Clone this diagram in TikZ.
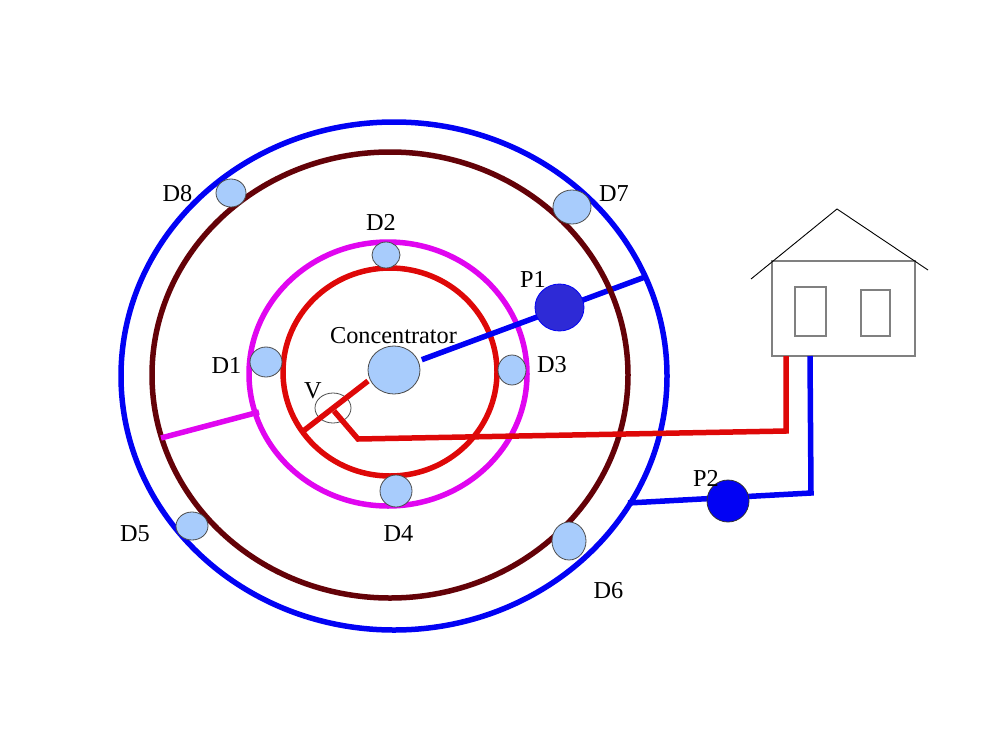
\documentclass[tikz,border=0pt]{standalone}
\usetikzlibrary{shapes.geometric}
\usepackage{fontspec}
\setmainfont{Liberation Serif}
\definecolor{bluepipe}{RGB}{2,2,244}
\definecolor{redpipe}{RGB}{222,8,8}
\definecolor{brownring}{RGB}{100,2,8}
\definecolor{magring}{RGB}{224,6,240}
\definecolor{devfill}{RGB}{168,204,252}
\definecolor{pumpone}{RGB}{46,42,214}
\tikzset{
  ringline/.style={line width=5.5pt},
  pipe/.style={line width=5.5pt,line join=miter},
  device/.style={ellipse,draw=black!70,line width=0.8pt,fill=devfill,inner sep=0pt},
  lbl/.style={font=\fontsize{24.3}{26}\selectfont,text=black,inner sep=0pt},
  thinline/.style={draw=black!50,line width=1.1pt},
}
\begin{document}
\begin{tikzpicture}[x=1pt,y=-1pt]
\useasboundingbox (0,0) rectangle (1000,728);
% inner rings
\draw[magring,ringline] (388,374) ellipse [x radius=139,y radius=132];
\draw[redpipe,ringline] (390,372) ellipse [x radius=107,y radius=104];
% free ends and junctions
\coordinate (blueEnd) at (645,277);
\coordinate (magA) at (161,438);
\coordinate (magB) at (259,412);
\coordinate (redStart) at (368,381);
\coordinate (redEnd) at (302,432);
\coordinate (redTee) at (334,411);
\coordinate (redKnee) at (358,439);
\coordinate (redCorner) at (786,431);
\coordinate (blueStart) at (628,503);
\coordinate (blueCorner) at (811,493);
\coordinate (houseRed) at (786,356);
\coordinate (houseBlue) at (810,356);
% concentrator and its feed, which runs under the brown ring
\node[device,minimum width=52pt,minimum height=48pt] (conc) at (394,370) {};
\draw[bluepipe,pipe,shorten <=3.5pt] (conc) -- (blueEnd);
% outer rings
\draw[bluepipe,ringline] (394,376) ellipse [x radius=273,y radius=254];
\draw[brownring,ringline] (390,375) ellipse [x radius=238,y radius=223];
% house
\node[thinline,draw,minimum width=143pt,minimum height=95pt,inner sep=0pt] (house) at (843.5,308.5) {};
\node[thinline,draw,minimum width=31pt,minimum height=49pt,inner sep=0pt] (winA) at (810.5,311.5) {};
\node[thinline,draw,minimum width=29pt,minimum height=46pt,inner sep=0pt] (winB) at (875.5,313) {};
\draw[black,line width=0.9pt] (751,279) -- (837,209) -- (928,270);
% devices
\node[device,minimum width=32pt,minimum height=30pt] (d1) at (266,362) {};
\node[device,minimum width=28pt,minimum height=26pt] (d2) at (386,255) {};
\node[device,minimum width=28pt,minimum height=30pt] (d3) at (512,370) {};
\node[device,minimum width=32pt,minimum height=32pt] (d4) at (396,491) {};
\node[device,minimum width=32pt,minimum height=28pt] (d5) at (192,526) {};
\node[device,minimum width=34pt,minimum height=38pt] (d6) at (569,541) {};
\node[device,minimum width=38pt,minimum height=34pt] (d7) at (572,207) {};
\node[device,minimum width=30pt,minimum height=28pt] (d8) at (231,193) {};
\node[ellipse,draw=black!70,line width=0.8pt,fill=white,inner sep=0pt,minimum width=36pt,minimum height=30pt] (valve) at (333,408) {};
% pipes
\draw[magring,pipe] (magA) -- (magB);
\draw[redpipe,pipe] (redStart) -- (redEnd);
\draw[redpipe,pipe] (redTee) -- (redKnee) -- (redCorner) -- (houseRed);
\draw[bluepipe,pipe] (blueStart) -- (blueCorner) -- (houseBlue);
% pumps
\node[ellipse,draw=bluepipe,line width=0.8pt,fill=pumpone,inner sep=0pt,minimum width=49pt,minimum height=47pt] (p1) at (559.5,307.5) {};
\node[circle,draw=black!80,line width=0.8pt,fill=bluepipe,inner sep=0pt,minimum size=42pt] (p2) at (728,501) {};
% labels
\node[lbl] (lConc) at (393.5,336) {Concentrator};
\node[lbl] (lV) at (313,391) {V};
\node[lbl] (l1) at (226.5,365) {D1};
\node[lbl] (l2) at (381,222) {D2};
\node[lbl] (l3) at (552,365) {D3};
\node[lbl] (l4) at (398.5,534) {D4};
\node[lbl] (l5) at (135,534) {D5};
\node[lbl] (l6) at (608.5,591) {D6};
\node[lbl] (l7) at (614,194) {D7};
\node[lbl] (l8) at (177.5,194) {D8};
\node[lbl] (lp1) at (533,279) {P1};
\node[lbl] (lp2) at (706,478) {P2};
\end{tikzpicture}
\end{document}
